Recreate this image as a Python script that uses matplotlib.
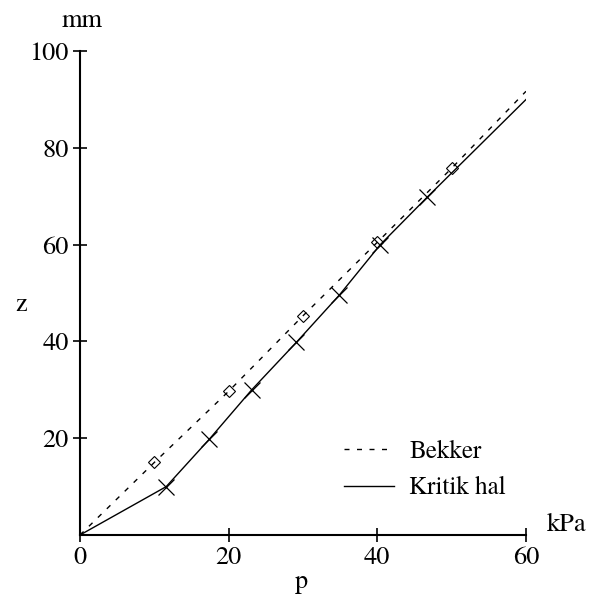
import matplotlib
matplotlib.use("Agg")
from matplotlib import pyplot as plt

# Bekker curve
bekker_p = [0, 10, 20, 30, 40, 50, 60]
bekker_z = [0, 15, 29.7, 45.3, 60.5, 75.8, 91.7]
# Kritik hal curve
kritik_p = [0, 11.6, 17.4, 23.1, 29.1, 34.9, 40.4, 46.7, 60]
kritik_z = [0, 10, 19.8, 30, 39.8, 49.6, 60, 69.8, 90]

x_ticks = [0, 20, 40, 60]
y_ticks = [20, 40, 60, 80, 100]

plt.rcParams['font.family'] = ['TeX Gyre Termes', 'Liberation Serif', 'DejaVu Serif']

fig = plt.figure(figsize=(5.97, 6.09), dpi=100)
ax = fig.add_axes([0.134, 0.1215, 0.747, 0.7945])

ax.plot(bekker_p, bekker_z, color="black", linestyle=(0, (3.6, 5.4)), linewidth=1,
        label="Bekker")
ax.plot(bekker_p[1:-1], bekker_z[1:-1], linestyle="none", marker="D",
        markersize=6, markerfacecolor="none", markeredgecolor="black",
        markeredgewidth=0.8)
ax.plot(kritik_p, kritik_z, color="black", linewidth=1, label="Kritik hal")
ax.plot(kritik_p[1:-1], kritik_z[1:-1], linestyle="none", marker="x",
        markersize=12, color="black", markeredgewidth=0.9)
ax.plot([0], [0], linestyle="none", marker="s", markersize=3, color="black")

ax.set_xlim(0, 60)
ax.set_ylim(0, 100)
ax.set_xticks(x_ticks)
ax.set_yticks(y_ticks)
ax.spines["top"].set_visible(False)
ax.spines["right"].set_visible(False)
ax.spines["left"].set_linewidth(1.5)
ax.spines["bottom"].set_linewidth(1.5)
ax.tick_params(direction="inout", length=10, width=1.2, labelsize=19, pad=3)

fig.text(0.035, 0.5, "z", fontsize=19, ha="center", va="center")
fig.text(0.505, 0.045, "p", fontsize=19, ha="center", va="center")
fig.text(0.137, 0.966, "mm", fontsize=19, ha="center", va="center")
fig.text(0.95, 0.138, "kPa", fontsize=19, ha="center", va="center")

ax.legend(loc="lower right", bbox_to_anchor=(1.005, 0.025), frameon=False,
          fontsize=18, handlelength=2.0, handletextpad=0.6, labelspacing=0.5)

fig.savefig("out.png", dpi=100, facecolor="white")
plt.close(fig)
